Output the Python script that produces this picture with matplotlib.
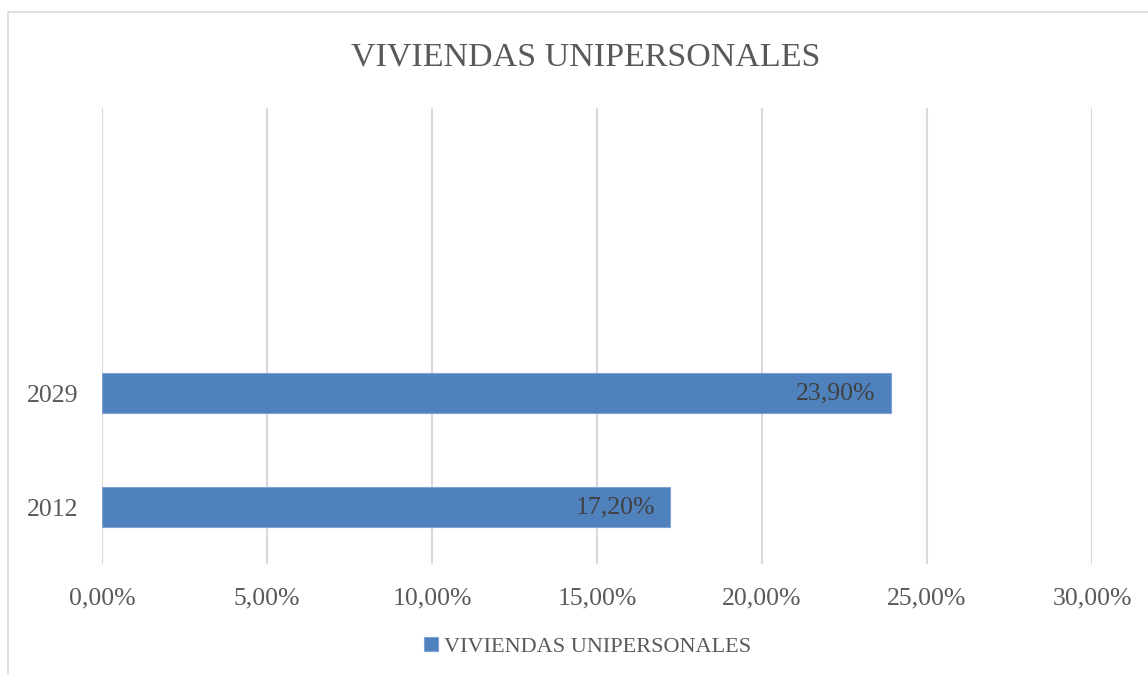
import matplotlib.pyplot as plt
from matplotlib.patches import Rectangle

# data
categories = ["2012", "2029", "", ""]
values = [17.20, 23.90, None, None]
value_labels = ["17,20%", "23,90%"]
xticks = [0, 5, 10, 15, 20, 25, 30]
xtick_labels = ["0,00%", "5,00%", "10,00%", "15,00%", "20,00%", "25,00%", "30,00%"]
series_name = "VIVIENDAS UNIPERSONALES"
title = "VIVIENDAS UNIPERSONALES"

W, H = 1148, 675
plt.rcParams['font.family'] = ['Liberation Serif', 'DejaVu Serif']

fig = plt.figure(figsize=(W / 100, H / 100), dpi=100)
fig.patch.set_facecolor('white')

# chart area border (cut off at right / bottom)
fig.add_artist(Rectangle((8 / W, -0.1), 1.2, 1 - 12 / H + 0.1,
                         transform=fig.transFigure, fill=False,
                         edgecolor='#d9d9d9', linewidth=1.2))

ax = fig.add_axes([102 / W, 1 - 564 / H, (1092 - 102) / W, (564 - 108) / H])

ypos = list(range(len(categories)))
bar_y = [y for y, v in zip(ypos, values) if v is not None]
bar_v = [v for v in values if v is not None]
bars = ax.barh(bar_y, bar_v, height=0.35, color='#4f81bd',
               edgecolor='#7ea3d1', linewidth=0.8, zorder=3,
               label=series_name)

for y, v, lab in zip(bar_y, bar_v, value_labels):
    ax.text(v - 0.45, y, lab, ha='right', va='center', fontsize=18.5,
            color='#404040', zorder=4)

ax.set_xlim(0, 30)
ax.set_ylim(-0.5, len(categories) - 0.5)
ax.set_xticks(xticks)
ax.set_xticklabels(xtick_labels, fontsize=18.5, color='#595959')
ax.set_yticks(ypos)
ax.set_yticklabels(categories, fontsize=18.5, color='#595959')
ax.tick_params(axis='both', length=0)
ax.tick_params(axis='x', pad=17)
ax.tick_params(axis='y', pad=17)
ax.grid(axis='x', color='#d9d9d9', linewidth=1.5, zorder=0)
for s in ax.spines.values():
    s.set_visible(False)

fig.text(586 / W, 1 - 57 / H, title, ha='center', va='center',
         fontsize=24.5, color='#595959')

fig.legend(handles=[bars], labels=[series_name], loc='center',
           bbox_to_anchor=(588 / W, 1 - 647 / H), frameon=False,
           fontsize=16, handlelength=0.6, handleheight=0.6,
           handletextpad=0.3, labelcolor='#595959')

fig.savefig('out.png', dpi=100)
